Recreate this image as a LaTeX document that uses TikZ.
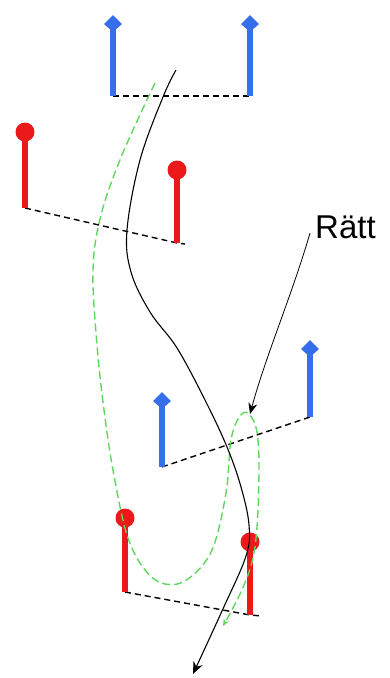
\documentclass[tikz,border=0pt]{standalone}
\usepackage{fontspec}
\setmainfont{Liberation Sans}
\usetikzlibrary{arrows.meta}
\definecolor{poleblue}{RGB}{55,110,235}
\definecolor{polered}{RGB}{235,25,25}
\definecolor{trackgreen}{RGB}{95,215,95}
\tikzset{
  bluepole/.style={poleblue, line width=5.5pt},
  bluehead/.style={fill=poleblue},
  redpole/.style={polered, line width=5.5pt},
  redhead/.style={fill=polered},
  gateline/.style={black, line width=1.4pt, dash pattern=on 6pt off 4pt},
  skiline/.style={black, line width=1.1pt},
  greenline/.style={trackgreen, line width=1.4pt, dash pattern=on 8pt off 4pt},
  pointer/.style={black, line width=0.8pt, -{Stealth[length=11pt,width=9pt]}},
  label/.style={font=\fontsize{33}{38}\selectfont, inner sep=0pt, anchor=south west}
}
\newcommand\bluetip[1]{\fill[bluehead] (#1) +(0,-9) -- +(9,0) -- +(0,8) -- +(-9,0) -- cycle;}
\begin{document}
\begin{tikzpicture}[x=1pt,y=-1pt]
  \useasboundingbox (0,0) rectangle (390,678);
  % Gate corners
  \coordinate (b1l) at (113,96);
  \coordinate (b1r) at (250,96);
  \coordinate (r1l) at (25,208);
  \coordinate (r1r) at (177,243);
  \coordinate (b2l) at (162,467);
  \coordinate (b2r) at (310,417);
  \coordinate (r2l) at (125,592);
  \coordinate (r2r) at (250,615);
  % Gate lines
  \draw[gateline] (b1l) -- (b1r);
  \draw[gateline] (r1l) -- (r1r) -- ++(8,1);
  \draw[gateline] (b2l) -- (b2r);
  \draw[gateline] (r2l) -- (r2r) -- ++(12,1);
  % Blue poles
  \draw[bluepole] (b1l) -- ++(0,-72) coordinate (t1);
  \draw[bluepole] (b1r) -- ++(0,-72) coordinate (t2);
  \draw[bluepole] (b2l) -- ++(0,-66) coordinate (t3);
  \draw[bluepole] (b2r) -- ++(0,-68) coordinate (t4);
  \bluetip{t1} \bluetip{t2} \bluetip{t3} \bluetip{t4}
  % Red poles
  \draw[redpole] (r1l) -- ++(0,-76) coordinate (h1);
  \draw[redpole] (r1r) -- ++(0,-73) coordinate (h2);
  \draw[redpole] (r2l) -- ++(0,-74) coordinate (h3);
  \draw[redpole] (r2r) -- ++(0,-73) coordinate (h4);
  \fill[redhead] (h1) circle (9.5);
  \fill[redhead] (h2) circle (9.5);
  \fill[redhead] (h3) circle (9.5);
  \fill[redhead] (h4) circle (9.5);
  % Green track
  \draw[greenline, -{Stealth[length=7pt,width=6pt]}] plot[smooth, tension=0.6] coordinates {
    (155,83) (122,155) (101,215) (93,270) (97,345) (104,410) (113,470) (127,535)
    (145,570) (165,584) (188,579) (212,550) (226,493) (231,440) (240,416) (249,414)
    (257,432) (259,470) (257,527) (252,562) (240,594) (223,626)};
  % Black track
  \draw[skiline, -{Stealth[length=12pt,width=10pt]}] plot[smooth, tension=0.6] coordinates {
    (176,70) (163,97) (140,160) (127,230) (131,272) (150,312) (177,348) (205,400)
    (227,447) (241,487) (249,525) (246,556) (222,611) (193,674)};
  % Label
  \node[label] (ratt) at (315,239) {Rätt};
  \draw[pointer] (ratt.south west) ++(-5,-6) .. controls (292,295) and (266,355) .. (250,414);
\end{tikzpicture}
\end{document}
